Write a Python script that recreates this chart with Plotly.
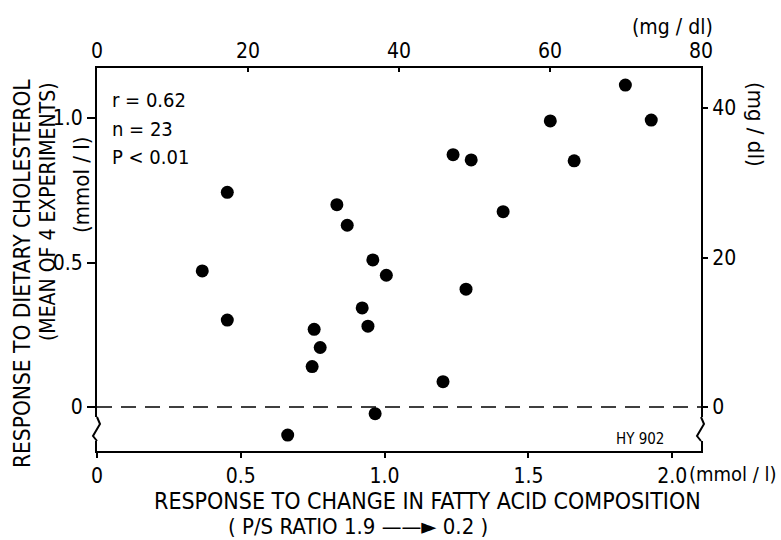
import plotly.graph_objects as go

# ---- data (mmol/l) ----
fatty_acid_response = [0.366, 0.453, 0.453, 0.663, 0.748, 0.755, 0.776, 0.834, 0.870,
                       0.922, 0.942, 0.959, 1.006, 0.967, 1.203, 1.238, 1.301, 1.283,
                       1.412, 1.576, 1.659, 1.837, 1.927]
cholesterol_response = [0.471, 0.743, 0.301, -0.097, 0.140, 0.269, 0.206, 0.700, 0.629,
                        0.343, 0.280, 0.509, 0.456, -0.023, 0.088, 0.873, 0.855, 0.408,
                        0.676, 0.990, 0.852, 1.114, 0.993]
x_ticks_mmol = [0, 0.5, 1.0, 1.5, 2.0]
x_ticklabels_mmol = ["0", "0.5", "1.0", "1.5", "2.0"]
y_ticks_mmol = [0, 0.5, 1.0]
y_ticklabels_mmol = ["0", "0.5", "1.0"]
ticks_mgdl_x = [0, 20, 40, 60, 80]
ticks_mgdl_y = [0, 20, 40]
MMOL_TO_MGDL = 38.67
stats_lines = ["r = 0.62", "n = 23", "P < 0.01"]

FONT = "Liberation Sans Narrow, DejaVu Sans Condensed, Arial Narrow, sans-serif"

W, H = 781, 540
L, R, T, B = 97, 701, 68, 451


def px(x):
    return (x - L) / (R - L)


def py(y):
    return (B - y) / (B - T)


fig = go.Figure()
fig.add_trace(go.Scatter(
    x=fatty_acid_response, y=cholesterol_response, mode="markers",
    marker=dict(color="black", size=13), xaxis="x", yaxis="y", showlegend=False,
    hoverinfo="skip"))
fig.add_trace(go.Scatter(
    x=[v * MMOL_TO_MGDL for v in fatty_acid_response],
    y=[v * MMOL_TO_MGDL for v in cholesterol_response],
    mode="markers", marker=dict(opacity=0), xaxis="x2", yaxis="y2",
    showlegend=False, hoverinfo="skip"))

x_range = [0, 2.1]
y_range = [-0.152, 1.173]
axis_common = dict(showgrid=False, zeroline=False, showline=True, linecolor="black",
                   linewidth=2, tickcolor="black", tickwidth=2,
                   tickfont=dict(family=FONT, size=21, color="black"))

fig.update_layout(
    width=W, height=H,
    margin=dict(l=L, r=W - R, t=T, b=H - B, pad=0),
    paper_bgcolor="white", plot_bgcolor="white",
    font=dict(family=FONT, color="black"),
    xaxis=dict(range=x_range, tickvals=x_ticks_mmol, ticktext=x_ticklabels_mmol,
               ticks="outside", ticklen=5, **axis_common),
    yaxis=dict(range=y_range, tickvals=y_ticks_mmol, ticktext=y_ticklabels_mmol,
               ticks="outside", ticklen=8, **axis_common),
    xaxis2=dict(range=[0, 80], tickvals=ticks_mgdl_x, overlaying="x", side="top",
                anchor="y", ticks="inside", ticklen=4, **axis_common),
    yaxis2=dict(range=[y_range[0] * MMOL_TO_MGDL, y_range[1] * MMOL_TO_MGDL],
                tickvals=ticks_mgdl_y, overlaying="y", side="right", anchor="x",
                ticks="outside", ticklen=5, **axis_common),
)

# dashed zero line
fig.add_shape(type="line", xref="x", yref="y", x0=0, x1=x_range[1], y0=0, y1=0,
              line=dict(color="black", width=1.6, dash="15px,9px"), layer="below")

# axis breaks
for ax_x in (L, R):
    fig.add_shape(type="rect", xref="paper", yref="paper",
                  x0=px(ax_x - 4), x1=px(ax_x + 4), y0=py(441), y1=py(417),
                  line=dict(width=0), fillcolor="white", layer="above")
    path = "M {} {} L {} {} L {} {} L {} {}".format(
        px(ax_x), py(417), px(ax_x + 3), py(424),
        px(ax_x - 4), py(436), px(ax_x), py(441))
    fig.add_shape(type="path", xref="paper", yref="paper", path=path,
                  line=dict(color="black", width=2), layer="above")


def ann(text, x, y, size, angle=0, xanchor="center", yanchor="middle"):
    fig.add_annotation(text=text, xref="paper", yref="paper", x=px(x), y=py(y),
                       showarrow=False, textangle=angle, xanchor=xanchor,
                       yanchor=yanchor, font=dict(family=FONT, size=size, color="black"))


# statistics
for line, yy in zip(stats_lines, [100, 129, 157]):
    ann(line, 110, yy, 20, xanchor="left")

# axis titles
ann("RESPONSE TO CHANGE IN FATTY ACID COMPOSITION", 427, 501, 23)
ann("( P/S RATIO 1.9 ——► 0.2 )", 358, 526, 22)
ann("RESPONSE TO DIETARY CHOLESTEROL", 22, 274, 22.5, angle=-90)
ann("(MEAN OF 4 EXPERIMENTS)", 48, 212, 21, angle=-90)
ann("(mmol / l)", 81, 185, 22, angle=-90)
ann("(mmol / l)", 687, 474, 20, xanchor="left")
ann("(mg / dl)", 672, 27, 21)
ann("(mg / dl)", 755, 125, 22, angle=90)
ann("HY 902", 640, 439, 15)

fig.write_html("out.html", config={"displayModeBar": False},
               post_script="document.body.style.margin='0px';")
